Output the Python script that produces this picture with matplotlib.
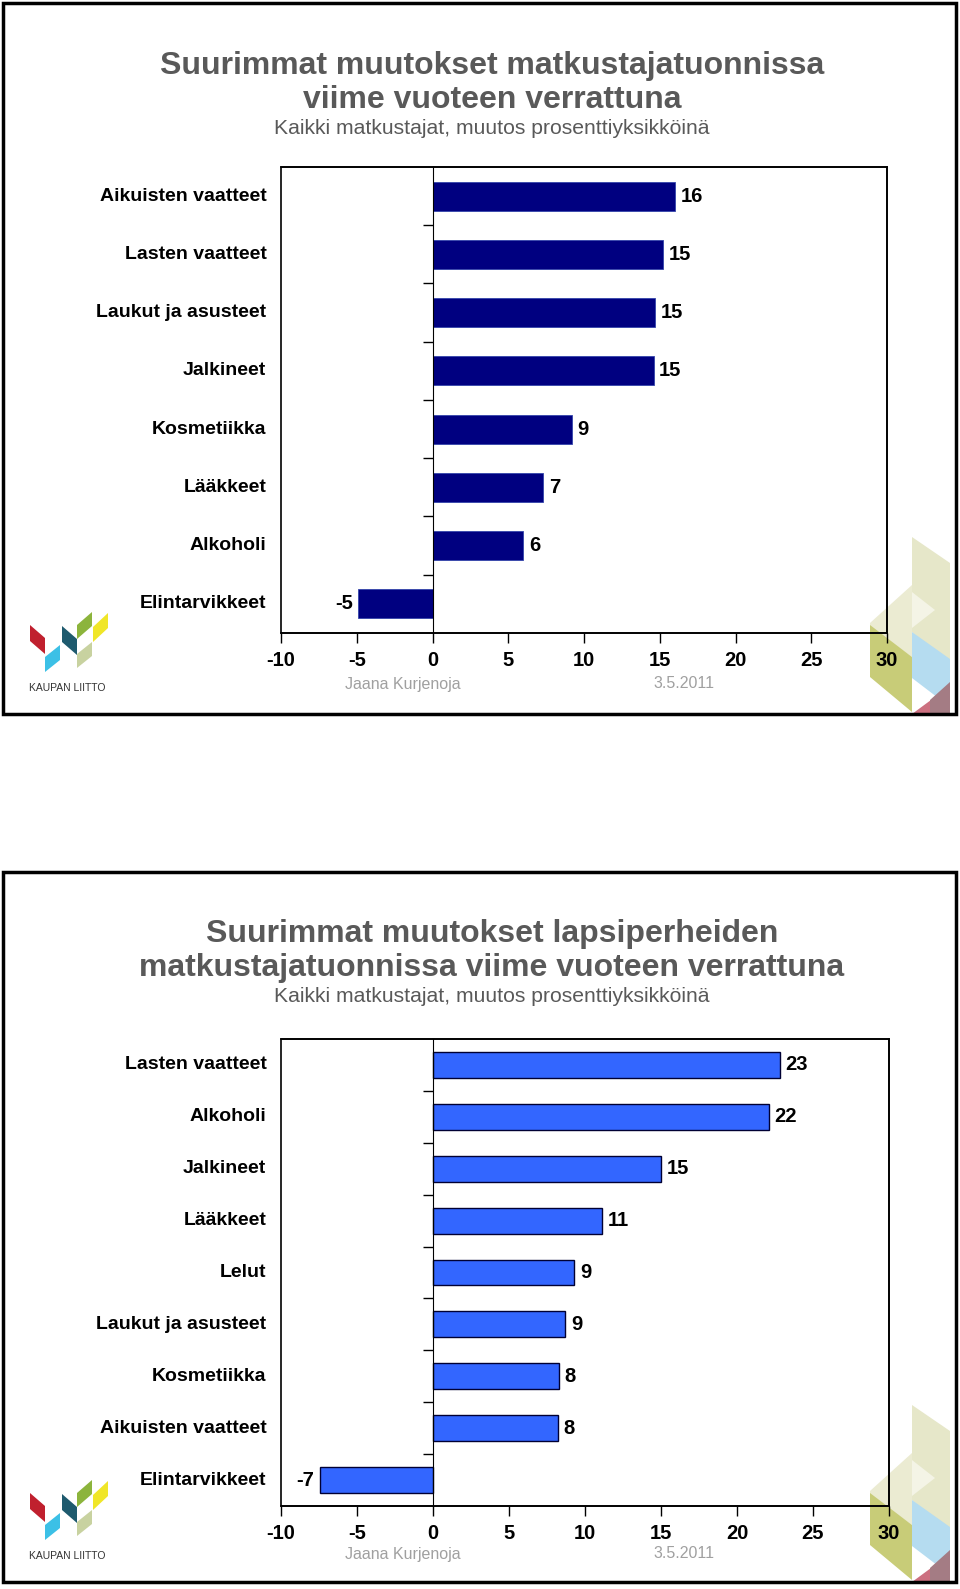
import matplotlib
matplotlib.use("Agg")
import matplotlib.pyplot as plt
from matplotlib.patches import Polygon, Rectangle

# Data
top_categories = ['Aikuisten vaatteet', 'Lasten vaatteet', 'Laukut ja asusteet', 'Jalkineet',
                  'Kosmetiikka', 'Lääkkeet', 'Alkoholi', 'Elintarvikkeet']
top_values = [16.0, 15.2, 14.7, 14.6, 9.2, 7.3, 6.0, -4.9]

bottom_categories = ['Lasten vaatteet', 'Alkoholi', 'Jalkineet', 'Lääkkeet', 'Lelut',
                     'Laukut ja asusteet', 'Kosmetiikka', 'Aikuisten vaatteet', 'Elintarvikkeet']
bottom_values = [22.8, 22.1, 15.0, 11.1, 9.3, 8.7, 8.3, 8.2, -7.45]

top_title = "Suurimmat muutokset matkustajatuonnissa\nviime vuoteen verrattuna"
bottom_title = "Suurimmat muutokset lapsiperheiden\nmatkustajatuonnissa viime vuoteen verrattuna"
subtitle = "Kaikki matkustajat, muutos prosenttiyksikköinä"
author = "Jaana Kurjenoja"
date = "3.5.2011"
x_ticks = [-10, -5, 0, 5, 10, 15, 20, 25, 30]

plt.rcParams['font.family'] = ['Liberation Sans', 'DejaVu Sans']

W, H = 960, 1589
fig = plt.figure(figsize=(W / 100, H / 100), dpi=100)

# background axes in pixel coordinates for frames and decorations
bg = fig.add_axes([0, 0, 1, 1])
bg.set_xlim(0, W)
bg.set_ylim(H, 0)
bg.axis('off')


def axes_px(l, t, r, b):
    return fig.add_axes([l / W, 1 - b / H, (r - l) / W, (b - t) / H])


def decorations(yb):
    # yb = frame bottom; shapes given relative to the top panel (frame bottom 714)
    d = yb - 714
    logo = [
        ([(30, 625), (45, 638), (45, 654), (30, 641)], '#c0202e'),
        ([(45, 657), (60, 645), (60, 660), (45, 672)], '#3cc0e6'),
        ([(62, 626), (77, 639), (77, 655), (62, 642)], '#1e5a6e'),
        ([(77, 625), (92, 612), (92, 626), (77, 639)], '#8cb43c'),
        ([(93, 627), (108, 613), (108, 628), (93, 642)], '#f0e628'),
        ([(77, 654), (92, 642), (92, 656), (77, 668)], '#c8d2a0'),
    ]
    deco = [
        ([(912, 537), (950, 563), (950, 665), (912, 632)], '#e6e7c9'),
        ([(912, 592), (935, 610), (912, 628)], '#f4f4e6'),
        ([(870, 623), (912, 585), (912, 657), (870, 627)], '#ebebd2'),
        ([(870, 625), (912, 657), (912, 712), (870, 677)], '#c8cc78'),
        ([(912, 632), (950, 659), (950, 707), (912, 678)], '#b5dcf0'),
        ([(912, 714), (950, 686), (950, 714)], '#cc7080'),
        ([(930, 700), (950, 682), (950, 714), (930, 714)], '#a47c84'),
    ]
    for pts, c in logo + deco:
        bg.add_patch(Polygon([(x, y + d) for x, y in pts], closed=True,
                             facecolor=c, edgecolor='none', zorder=1))
    bg.text(67, 688 + d, "KAUPAN LIITTO", ha='center', va='center',
            fontsize=7.5, color='#333333', zorder=2)


def panel(ftop, fbottom, title, title_y, sub_y, rect, cats, vals, color, edge, elw, foot_y):
    bg.add_patch(Rectangle((3, ftop), 953, fbottom - ftop, fill=False,
                           edgecolor='black', linewidth=2.5, zorder=3))
    decorations(fbottom)
    bg.text(492, title_y, title, ha='center', va='center', fontsize=23,
            fontweight='bold', color='#595959', linespacing=1.2)
    bg.text(492, sub_y, subtitle, ha='center', va='center', fontsize=15.2, color='#595959')
    bg.text(403, foot_y, author, ha='center', va='center', fontsize=11.5, color='#a0a0a0')
    bg.text(684, foot_y, date, ha='center', va='center', fontsize=11.5, color='#a0a0a0')

    ax = axes_px(*rect)
    ax.patch.set_alpha(0)
    n = len(cats)
    pos = list(range(n))
    bars = ax.barh(pos, vals, height=0.5, color=color, edgecolor=edge, linewidth=elw, zorder=2)
    ax.bar_label(bars, labels=[f"{v:.0f}" for v in vals], padding=4,
                 fontsize=14.5, fontweight='bold')
    ax.set_xlim(-10, 30)
    ax.set_ylim(n - 0.5, -0.5)
    ax.set_xticks(x_ticks)
    ax.set_xticklabels([str(t) for t in x_ticks], fontsize=14.5, fontweight='bold')
    ax.tick_params(axis='x', direction='out', length=7, width=1, pad=6)
    ax.spines['left'].set_position(('data', 0))
    ax.spines['left'].set_zorder(3)
    ax.set_yticks([i + 0.5 for i in range(n - 1)])
    ax.set_yticklabels([])
    ax.tick_params(axis='y', direction='out', length=7, width=1)
    for s in ['top', 'right', 'bottom']:
        ax.spines[s].set_linewidth(1.2)
    ax.add_patch(Rectangle((0, 0), 1, 1, transform=ax.transAxes, fill=False,
                           edgecolor='black', linewidth=1.2, zorder=3, clip_on=False))
    for i, c in enumerate(cats):
        ax.annotate(c, xy=(0, i), xycoords=('axes fraction', 'data'),
                    xytext=(-10.5, 0), textcoords='offset points',
                    ha='right', va='center', fontsize=14, fontweight='bold')
    return ax


panel(3, 714, top_title, 83, 129, (281, 167, 887, 633),
      top_categories, top_values, '#000080', '#3344aa', 0.6, 684)
panel(872, 1582, bottom_title, 951, 997, (281, 1039, 889, 1506),
      bottom_categories, bottom_values, '#3366ff', '#000033', 1.0, 1554)

fig.savefig("out.png", dpi=100)
